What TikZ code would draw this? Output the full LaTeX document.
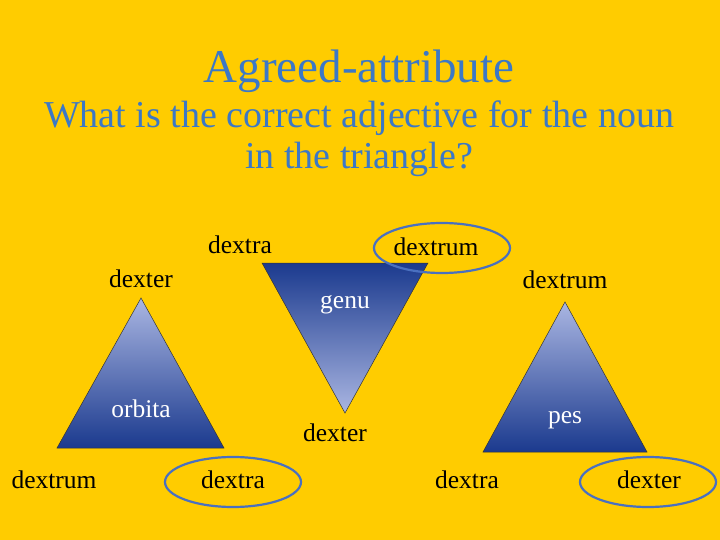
\documentclass[tikz,border=0pt]{standalone}
\usepackage{fontspec}
\setmainfont{Liberation Serif}
\usepackage{xcolor}
\usetikzlibrary{positioning, shapes.geometric}

\definecolor{slide}{HTML}{FFCC00}
\definecolor{titleblue}{HTML}{3C78C6}
\definecolor{ringblue}{HTML}{4A70C0}
\definecolor{darktri}{HTML}{1B3A8E}
\definecolor{lighttri}{HTML}{AAB6E2}

\begin{document}
\begin{tikzpicture}[
    x=1pt, y=-1pt,
    heading/.style={text=titleblue, anchor=base, inner sep=0pt},
    word/.style={anchor=base, inner sep=0pt, font=\fontsize{25.5}{28}\selectfont},
    noun/.style={word, text=white},
    ring/.style={draw=ringblue, line width=2.2pt, ellipse, minimum width=136pt, minimum height=50pt}
]
    % Background
    \fill[slide] (0,0) rectangle (720,540);
    \useasboundingbox (0,0) rectangle (720,540);

    % Title
    \node[heading, font=\fontsize{47}{52}\selectfont] (title) at (359,83) {Agreed-attribute};
    \node[heading, font=\fontsize{38}{44}\selectfont] (ask1) at (359,128) {What is the correct adjective for the noun};
    \node[heading, font=\fontsize{38}{44}\selectfont] (ask2) at (359,169) {in the triangle?};

    % Triangles
    \coordinate (orbTop) at (141,298);
    \coordinate (orbL) at (57,448);
    \coordinate (orbR) at (224,448);
    \shade[top color=lighttri, bottom color=darktri, draw=black!80, line width=0.5pt]
        (orbTop) -- (orbR) -- (orbL) -- cycle;

    \coordinate (genL) at (262,263);
    \coordinate (genR) at (428,263);
    \coordinate (genBot) at (345,413);
    \shade[top color=darktri, bottom color=lighttri, draw=black!80, line width=0.5pt]
        (genL) -- (genR) -- (genBot) -- cycle;

    \coordinate (pesTop) at (565,302);
    \coordinate (pesL) at (483,452);
    \coordinate (pesR) at (647,452);
    \shade[top color=lighttri, bottom color=darktri, draw=black!80, line width=0.5pt]
        (pesTop) -- (pesR) -- (pesL) -- cycle;

    % Nouns
    \node[noun] (orbita) at (141,417) {orbita};
    \node[noun] (genu) at (345,308) {genu};
    \node[noun] (pes) at (565,423) {pes};

    % Adjectives
    \node[word] (a1) at (141,287) {dexter};
    \node[word] (a2) at (54,488) {dextrum};
    \node[word] (a3) at (233,488) {dextra};
    \node[word] (b1) at (240,254) {dextra};
    \node[word] (b2) at (436,255) {dextrum};
    \node[word] (b3) at (335,441) {dexter};
    \node[word] (c1) at (565,288) {dextrum};
    \node[word] (c2) at (467,488) {dextra};
    \node[word] (c3) at (649,488) {dexter};

    % Correct answers
    \node[ring] (r1) at (442,248) {};
    \node[ring] (r2) at (233,482) {};
    \node[ring] (r3) at (648,482) {};
\end{tikzpicture}
\end{document}
